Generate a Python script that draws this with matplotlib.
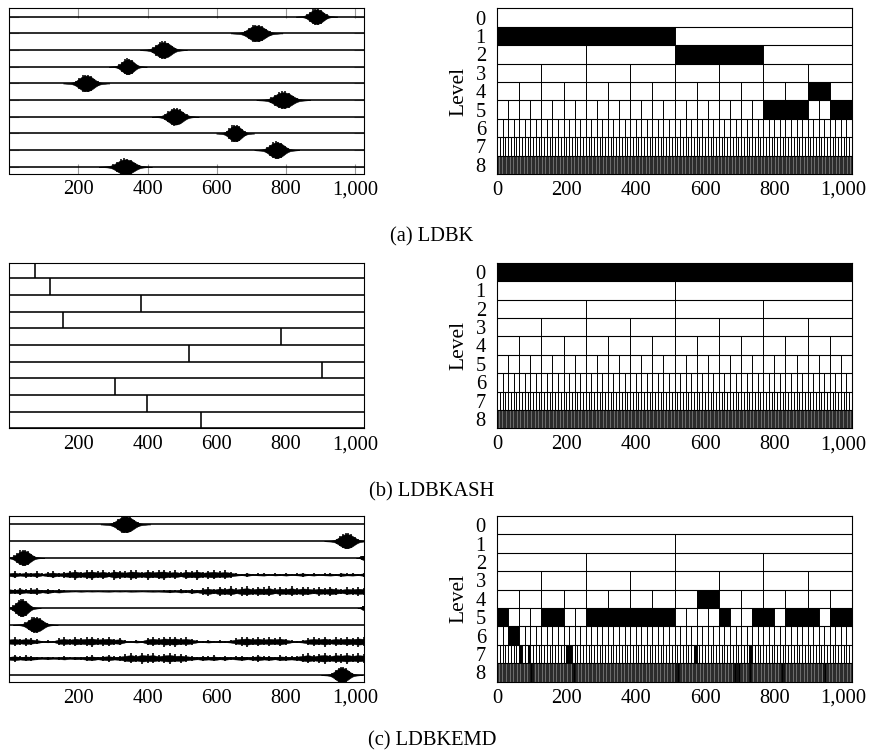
import numpy as np
import matplotlib
matplotlib.use('Agg')
import matplotlib.pyplot as plt

plt.rcParams['font.family'] = ['Liberation Serif', 'DejaVu Serif']

N = 1024
n_rows = 10
levels = list(range(9))
level_labels = ['0', '1', '2', '3', '4', '5', '6', '7', '8']
left_ticks = [200, 400, 600, 800, 1000]
left_ticklabels = ['200', '400', '600', '800', '1,000']
right_ticks = [0, 200, 400, 600, 800, 1000]
right_ticklabels = ['0', '200', '400', '600', '800', '1,000']
captions = ['(a) LDBK', '(b) LDBKASH', '(c) LDBKEMD']

# normalized burst envelope (offset -1..1 across the burst)
burst_profile = [0.0, 0.03, 0.05, 0.07, 0.12, 0.22, 0.4, 0.62, 0.82, 0.95, 1.0,
                 0.95, 0.84, 0.64, 0.42, 0.24, 0.13, 0.08, 0.05, 0.02, 0.0]
# spikes riding on each burst (offset, relative height)
burst_spike_offsets = [-0.45, -0.3, -0.15, -0.05, 0.08, 0.2, 0.35, 0.5]
burst_spike_heights = [0.35, 0.7, 1.05, 1.12, 1.1, 0.95, 0.55, 0.3]

# (a) LDBK signals: one burst per row
a_rows = [0, 1, 2, 3, 4, 5, 6, 7, 8, 9]
a_centers = [888, 715, 446, 343, 223, 792, 480, 653, 773, 336]
a_halfwidths = [60, 75, 68, 55, 67, 78, 68, 55, 65, 77]
a_amplitudes = [0.44, 0.47, 0.47, 0.44, 0.47, 0.47, 0.47, 0.47, 0.47, 0.45]

# (b) LDBKASH signals: one spike per row
b_spikes = [74, 117, 382, 156, 785, 521, 905, 307, 399, 555]

# (c) LDBKEMD signals: bursts + noisy rows
c_rows = [0, 1, 2, 2, 5, 5, 6, 9]
c_centers = [336, 975, 42, 1024, 37, 1024, 76, 961]
c_halfwidths = [72, 65, 60, 22, 55, 18, 65, 60]
c_amplitudes = [0.47, 0.42, 0.42, 0.12, 0.47, 0.12, 0.42, 0.42]

c_noise_row3 = [0.14, 0.2, 0.1, 0.18, 0.12, 0.2, 0.08, 0.16, 0.2, 0.12, 0.18,
                0.22, 0.3, 0.18, 0.26, 0.3, 0.2, 0.28, 0.16, 0.3, 0.24, 0.2, 0.3, 0.26, 0.18, 0.3,
                0.22, 0.28, 0.3, 0.2, 0.26, 0.16, 0.28, 0.22, 0.3, 0.18, 0.24, 0.28, 0.2, 0.26, 0.18,
                0.1, 0.06, 0.12, 0.05, 0.08, 0.1, 0.04, 0.09, 0.06, 0.1, 0.05, 0.08, 0.12, 0.06,
                0.1, 0.04, 0.08, 0.1, 0.06, 0.12, 0.08, 0.1, 0.06, 0.12]
c_noise_row4 = [0.2, 0.14, 0.22, 0.12, 0.18, 0.2, 0.1, 0.16, 0.08, 0.12, 0.06,
                0.03, 0.02, 0.04, 0.02, 0.03, 0.02, 0.03, 0.04, 0.02, 0.03, 0.02, 0.04, 0.03,
                0.02, 0.03, 0.04, 0.03,
                0.06, 0.1, 0.05, 0.12, 0.08, 0.14, 0.1,
                0.2, 0.26, 0.16, 0.28, 0.22, 0.3, 0.18, 0.26, 0.3, 0.2, 0.28, 0.24, 0.3, 0.18,
                0.26, 0.22, 0.3, 0.2, 0.28, 0.24, 0.18, 0.26, 0.2, 0.28, 0.22, 0.16, 0.24, 0.2,
                0.26, 0.22]
c_noise_row7 = [0.2, 0.26, 0.18, 0.24, 0.2, 0.14,
                0.06, 0.08, 0.05,
                0.2, 0.26, 0.18, 0.28, 0.22, 0.26, 0.3, 0.2, 0.24, 0.28, 0.18, 0.22,
                0.08, 0.05, 0.1, 0.06,
                0.22, 0.28, 0.2, 0.3, 0.26, 0.3, 0.22, 0.26, 0.18,
                0.08, 0.06, 0.1, 0.05, 0.08, 0.06, 0.1,
                0.2, 0.26, 0.3, 0.22, 0.28, 0.2, 0.26, 0.22, 0.28, 0.18,
                0.08, 0.06, 0.1,
                0.2, 0.26, 0.22, 0.3, 0.18, 0.26, 0.22, 0.28, 0.24, 0.3, 0.26]
c_noise_row8 = [0.14, 0.2, 0.12, 0.18, 0.14, 0.1,
                0.06, 0.1, 0.05, 0.08, 0.12, 0.06, 0.1, 0.08,
                0.14, 0.18, 0.1, 0.16, 0.2, 0.12, 0.16,
                0.24, 0.3, 0.22, 0.32, 0.26, 0.3, 0.2, 0.28, 0.32, 0.24, 0.26, 0.2,
                0.14, 0.1, 0.16, 0.12, 0.18, 0.1, 0.14, 0.08, 0.12, 0.16, 0.1, 0.14, 0.2, 0.12,
                0.16, 0.1, 0.18, 0.14, 0.12, 0.16,
                0.24, 0.3, 0.2, 0.28, 0.32, 0.22, 0.3, 0.26, 0.32, 0.24, 0.3, 0.26]
c_noise_rows = [3, 4, 7, 8]
c_noise = [c_noise_row3, c_noise_row4, c_noise_row7, c_noise_row8]

# selected (black) nodes of the dyadic tree, per level
a_black = {1: [0], 2: [2], 4: [14], 5: [24, 25, 26, 27, 30, 31]}
b_black = {0: [0]}
c_black = {4: [9],
           5: [0, 4, 5, 8, 9, 10, 11, 12, 13, 14, 15, 20, 23, 24, 26, 27, 28, 30, 31],
           6: [2, 3],
           7: [8, 11, 25, 26, 71, 91],
           8: [24, 25, 26, 54, 55, 56, 128, 129, 130, 131, 170, 171, 172, 173, 174,
               182, 183, 205, 206, 207, 235, 236]}

W, H = 871, 751
fig = plt.figure(figsize=(W / 100, H / 100), dpi=100)

def frac_box(x0, x1, ytop, ybot):
    return [x0 / W, 1 - ybot / H, (x1 - x0) / W, (ybot - ytop) / H]

TICK_FS = 14.8
LINE_LW = 1.15

def style_common(ax):
    for s in ax.spines.values():
        s.set_linewidth(0.8)
        s.set_color('black')
    ax.set_xlim(0, N)

def left_axis_ticks(ax):
    ax.set_xticks(left_ticks)
    ax.set_xticklabels(left_ticklabels, fontsize=TICK_FS)
    ax.tick_params(axis='x', length=0, pad=5)
    ax.set_yticks([])

def draw_bursts(ax, rows, centers, hws, amps):
    prof = np.asarray(burst_profile)
    px = np.linspace(-1, 1, len(prof))
    so = np.asarray(burst_spike_offsets)
    sh = np.asarray(burst_spike_heights)
    for r, c, hw, a in zip(rows, centers, hws, amps):
        base = n_rows - 1 - r
        x = c + hw * px
        ax.fill_between(x, base - a * prof, base + a * prof, color='black', lw=0.4, zorder=3)
        ax.vlines(c + hw * so, base - a * sh, base + a * sh, color='black', lw=1.1, zorder=3)

def draw_noise(ax, rows, envs):
    for r, env in zip(rows, envs):
        base = n_rows - 1 - r
        e = np.asarray(env)
        x = np.linspace(0, N, len(e))
        ax.fill_between(x, base - 0.62 * e, base + 0.62 * e, color='black', lw=0.3, zorder=3)
        ax.vlines(x, base - e, base + e, color='black', lw=1.2, zorder=3)

def draw_tree(ax, black):
    for k in levels:
        nb = 2 ** k
        w = N / nb
        if k == 8:
            ax.axhspan(k, k + 1, color='0.42', lw=0, zorder=1)
        if k in black:
            ax.broken_barh([(j * w, w) for j in black[k]], (k, 1), facecolors='black',
                           edgecolor='none', zorder=2)
        if nb > 1:
            lw = 0.55 if k == 8 else 0.7
            col = '0.1' if k == 8 else 'black'
            ax.vlines(np.arange(1, nb) * w, k, k + 1, color=col, lw=lw, zorder=3)
    ax.hlines(levels[1:], 0, N, color='black', lw=0.8, zorder=3)
    ax.set_ylim(9, 0)
    ax.set_yticks([k + 0.5 for k in levels])
    ax.set_yticklabels(level_labels, fontsize=TICK_FS)
    ax.set_xticks(right_ticks)
    ax.set_xticklabels(right_ticklabels, fontsize=TICK_FS)
    ax.tick_params(axis='both', length=0)
    ax.tick_params(axis='x', pad=5)
    ax.tick_params(axis='y', pad=8)
    ax.set_ylabel('Level', fontsize=15.5, labelpad=5)

# ---------- (a) ----------
ax = fig.add_axes(frac_box(9, 363.6, 8.3, 173.5))
style_common(ax)
for r in range(n_rows):
    ax.hlines(n_rows - 1 - r, 0, N, color='black', lw=LINE_LW, zorder=2)
draw_bursts(ax, a_rows, a_centers, a_halfwidths, a_amplitudes)
ax.set_ylim(-0.4, 9.5)
ax.set_xticks(left_ticks)
ax.set_xticklabels(left_ticklabels, fontsize=TICK_FS)
ax.set_yticks([n_rows - 1 - r for r in range(n_rows)])
ax.set_yticklabels([])
ax.tick_params(axis='both', direction='in', length=7, width=0.8, color='0.6',
               top=True, right=True, labelleft=False, pad=5)

ax = fig.add_axes(frac_box(497, 852, 8.3, 174))
style_common(ax)
draw_tree(ax, a_black)

# ---------- (b) ----------
ax = fig.add_axes(frac_box(9, 363.6, 262.7, 428.3))
style_common(ax)
for r in range(n_rows):
    base = n_rows - 1 - r
    ax.hlines(base, 0, N, color='black', lw=LINE_LW, zorder=2)
    ax.vlines(b_spikes[r], base, base + 1, color='black', lw=LINE_LW, zorder=2)
ax.set_ylim(0, 9.94)
left_axis_ticks(ax)

ax = fig.add_axes(frac_box(497, 852, 262.7, 428.3))
style_common(ax)
draw_tree(ax, b_black)

# ---------- (c) ----------
ax = fig.add_axes(frac_box(9, 363.6, 516, 681.7))
style_common(ax)
for r in range(n_rows):
    ax.hlines(n_rows - 1 - r, 0, N, color='black', lw=LINE_LW, zorder=2)
draw_bursts(ax, c_rows, c_centers, c_halfwidths, c_amplitudes)
draw_noise(ax, c_noise_rows, c_noise)
ax.set_ylim(-0.4, 9.5)
left_axis_ticks(ax)

ax = fig.add_axes(frac_box(497, 852, 516, 681.7))
style_common(ax)
draw_tree(ax, c_black)

# captions
for cap, yc in zip(captions, [237, 492, 741]):
    fig.text(432 / W, 1 - yc / H, cap, ha='center', va='center', fontsize=14.8)

fig.savefig('out.png', dpi=100)
